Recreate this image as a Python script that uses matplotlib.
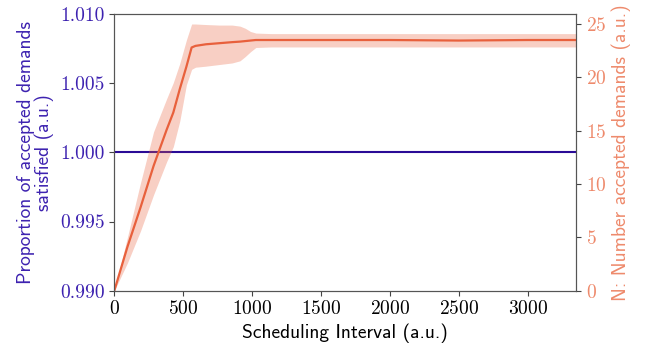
import matplotlib
matplotlib.use('Agg')
import matplotlib.pyplot as plt
from matplotlib.ticker import FormatStrFormatter

plt.rcParams['font.family'] = 'cmr10'
plt.rcParams['axes.formatter.use_mathtext'] = True

# scheduling interval samples
interval = [0, 95, 190, 285, 380, 428, 475, 523, 561, 589, 665, 760, 855, 912,
            950, 988, 1027, 1140, 1500, 2000, 2500, 3000, 3350]
# number of accepted demands: mean and band
n_mean = [0, 4.1, 7.8, 11.7, 15.1, 16.7, 18.9, 21.0, 22.8, 22.95, 23.1, 23.2, 23.3, 23.35,
          23.4, 23.45, 23.5, 23.5, 23.5, 23.5, 23.45, 23.5, 23.5]
n_upper = [0, 5.0, 10.1, 14.9, 18.0, 19.5, 21.3, 23.5, 25.0, 25.0, 24.95, 24.9, 24.9, 24.8,
           24.6, 24.3, 24.15, 24.1, 24.1, 24.1, 24.1, 24.1, 24.1]
n_lower = [0, 2.6, 5.6, 9.0, 12.1, 13.5, 15.9, 19.3, 20.75, 20.95, 21.05, 21.2, 21.35, 21.55,
           21.95, 22.4, 22.8, 22.85, 22.85, 22.85, 22.85, 22.85, 22.85]
# proportion of accepted demands satisfied
prop = [1.0] * len(interval)

left_col = '#3d22b0'
line_col = '#2a0b96'
right_col = '#e8603c'
right_lab = '#ee8a6c'

fig = plt.figure(figsize=(6.48, 3.47), dpi=100)
ax = fig.add_axes([0.1764, 0.1622, 0.7125, 0.7975])
ax2 = ax.twinx()

ax.plot(interval, prop, color=line_col, lw=1.5, zorder=3)
ax2.fill_between(interval, n_lower, n_upper, color=right_col, alpha=0.3, lw=0)
ax2.plot(interval, n_mean, color=right_col, lw=1.6)

ax.set_xlim(0, 3350)
ax.set_ylim(0.990, 1.010)
ax.set_yticks([0.990, 0.995, 1.000, 1.005, 1.010])
ax.yaxis.set_major_formatter(FormatStrFormatter('%.3f'))
ax2.set_ylim(0, 25.94)
ax2.set_yticks([0, 5, 10, 15, 20, 25])

ax.set_xlabel('Scheduling Interval (a.u.)', fontfamily='cmss10', fontsize=14)
ax.set_ylabel('Proportion of accepted demands\nsatisfied (a.u.)', fontfamily='cmss10',
              fontsize=14, color=left_col, linespacing=1.0)
ax2.set_ylabel('N: Number accepted demands (a.u.)', fontfamily='cmss10',
               fontsize=14, color=right_lab)

ax.tick_params(axis='x', labelsize=14, colors='#444444', labelcolor='black')
ax.tick_params(axis='y', labelsize=14, colors='#444444', labelcolor=left_col)
ax2.tick_params(axis='y', labelsize=14, colors='#444444', labelcolor=right_lab)
for a in (ax, ax2):
    for s in a.spines.values():
        s.set_color('#555555')

fig.savefig('out.png', dpi=100)
